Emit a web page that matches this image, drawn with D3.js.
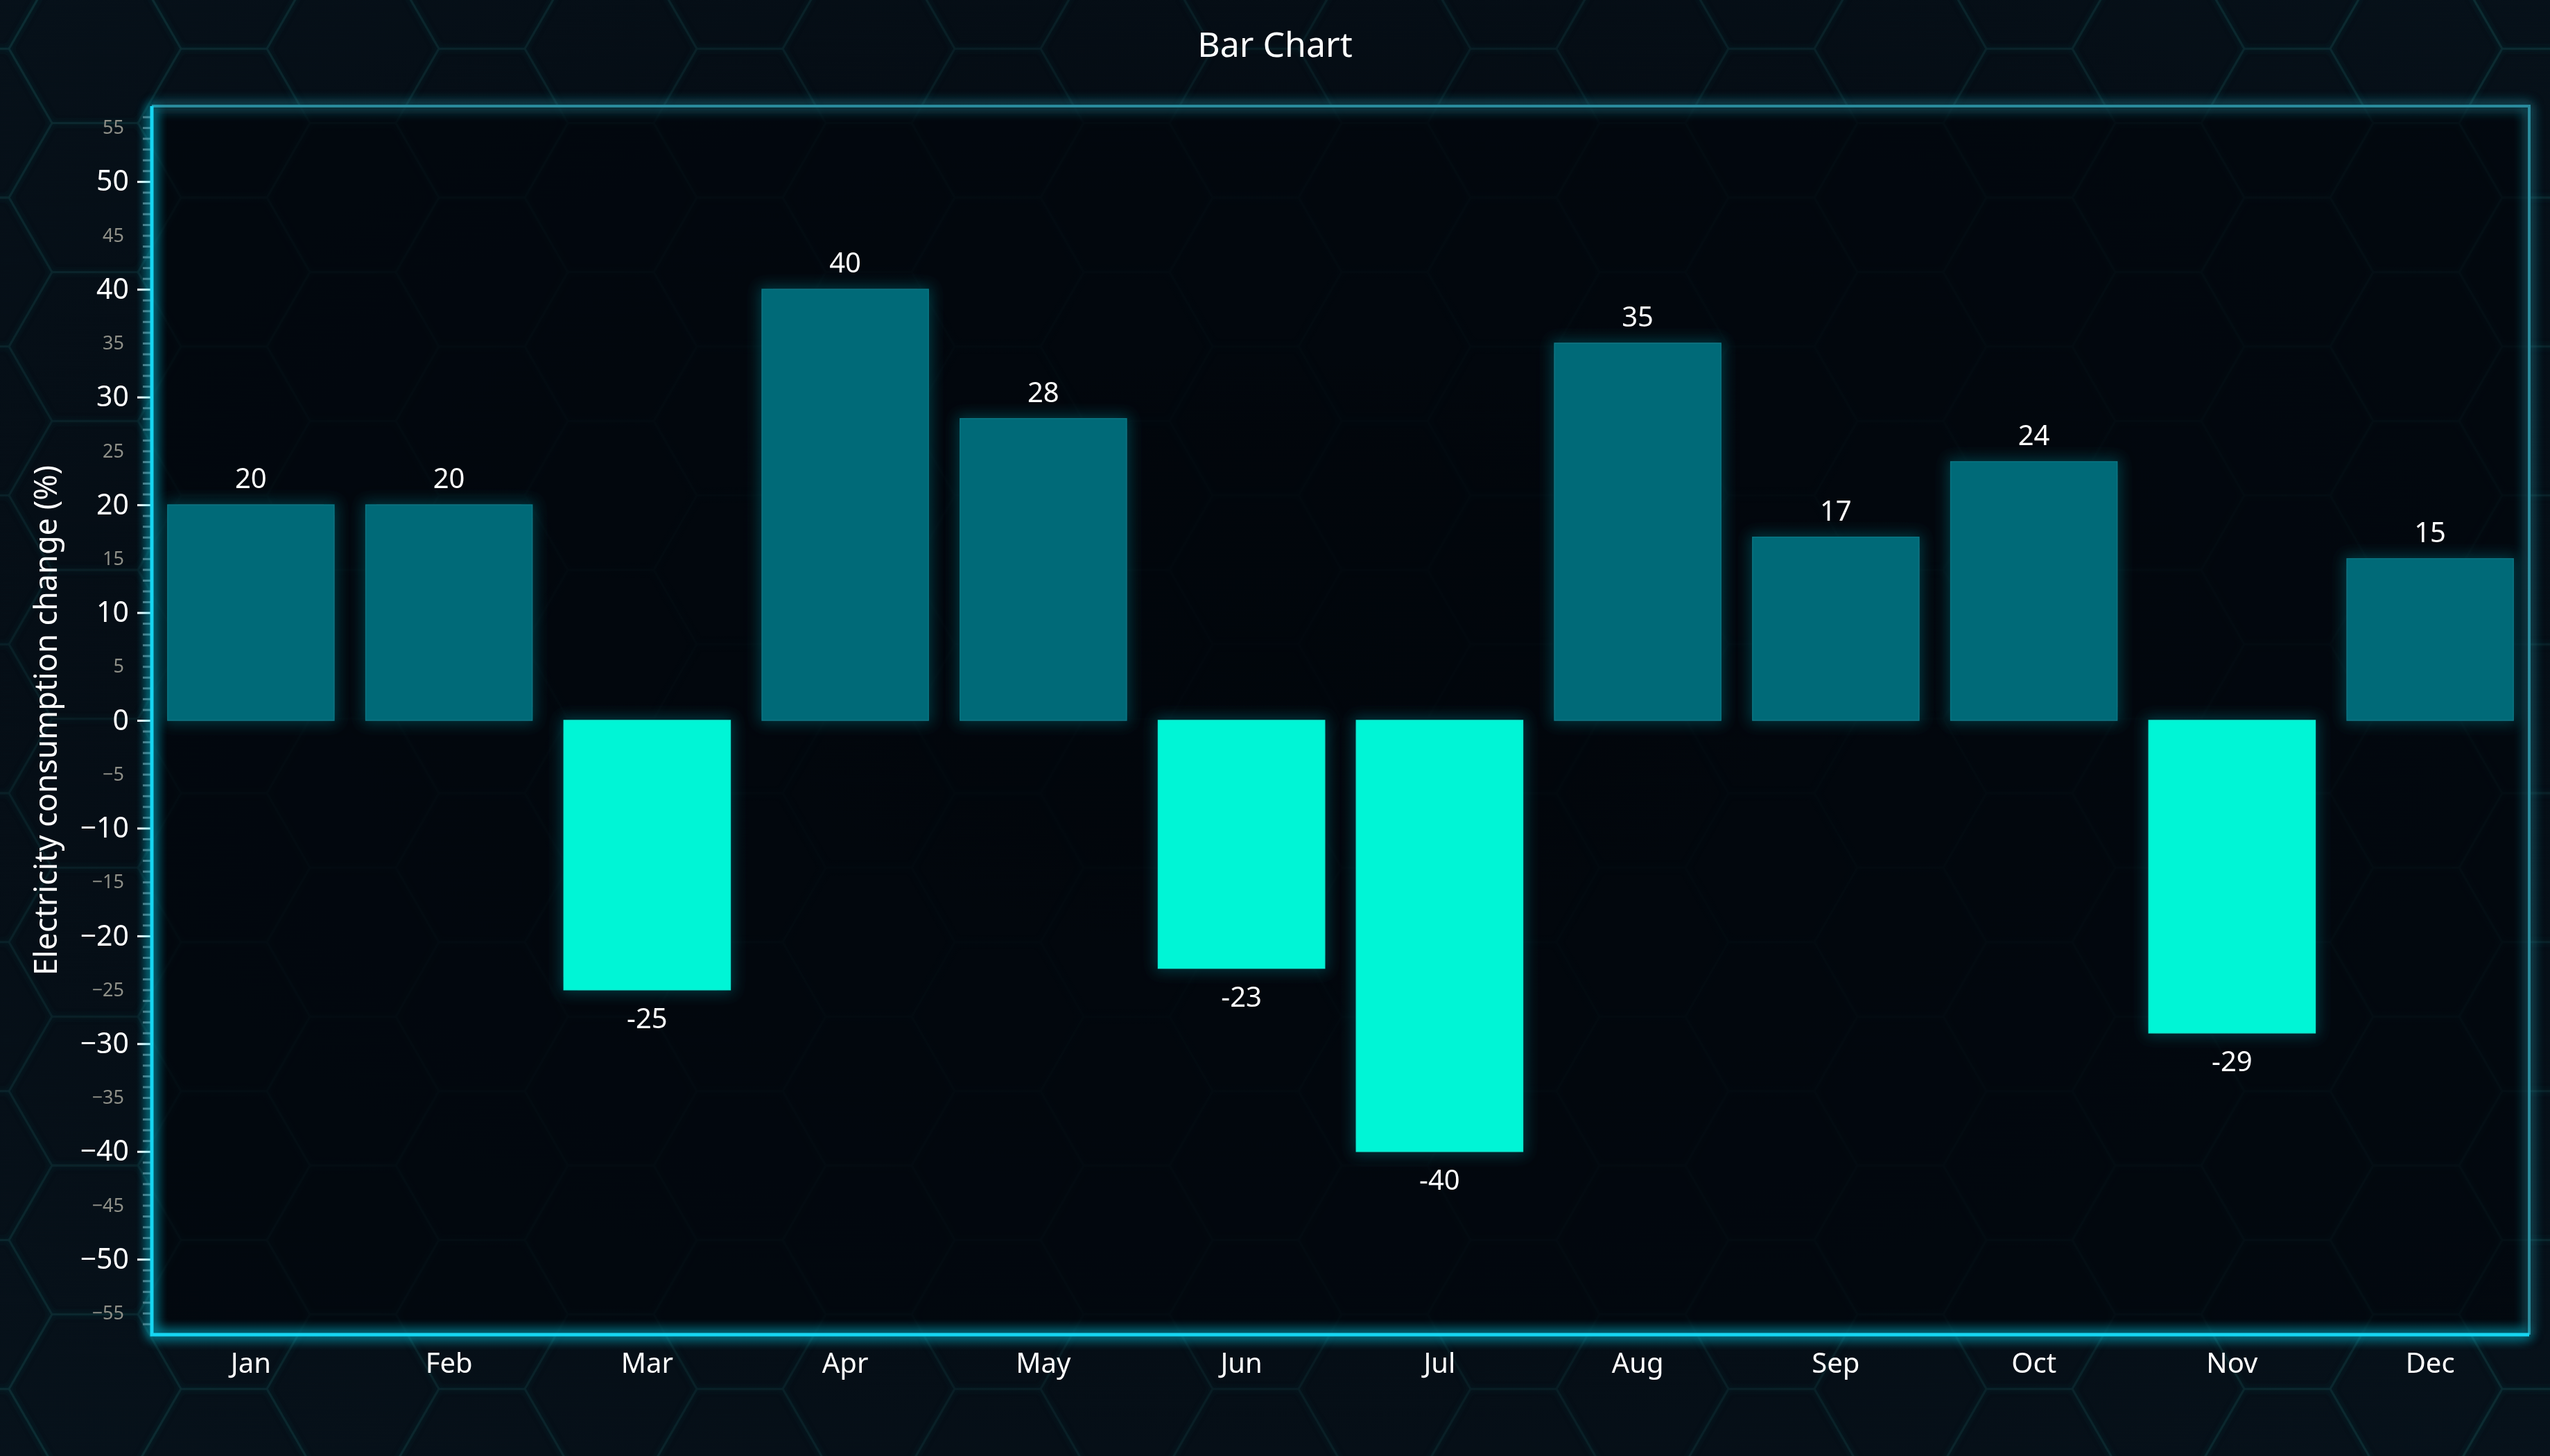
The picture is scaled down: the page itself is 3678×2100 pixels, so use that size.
<!DOCTYPE html>
<html>
<head>
<meta charset="utf-8">
<script src="https://cdn.jsdelivr.net/npm/d3@7"></script>
<style>
  html, body { margin: 0; padding: 0; background: #050b14; }
  svg { display: block; }
  text { font-family: "Noto Sans", "Open Sans", sans-serif; }
</style>
</head>
<body>
<svg id="chart" width="3678" height="2100"></svg>
<script>
const months = ["Jan","Feb","Mar","Apr","May","Jun","Jul","Aug","Sep","Oct","Nov","Dec"];
const changes = [20, 20, -25, 40, 28, -23, -40, 35, 17, 24, -29, 15];
const yDomain = [-57, 57];
const majorTicks = [-50, -40, -30, -20, -10, 0, 10, 20, 30, 40, 50];
const minorLabelTicks = [-55, -45, -35, -25, -15, -5, 5, 15, 25, 35, 45, 55];
const titleText = "Bar Chart";
const yTitle = "Electricity consumption change (%)";

const W = 3678, H = 2100;
const m = { left: 219, right: 30, top: 153, bottom: 175 };
const svg = d3.select("#chart");
const defs = svg.append("defs");

// background gradient
const bg = defs.append("radialGradient").attr("id", "bgGrad")
  .attr("cx", "50%").attr("cy", "45%").attr("r", "75%");
bg.append("stop").attr("offset", "0%").attr("stop-color", "#03070d");
bg.append("stop").attr("offset", "100%").attr("stop-color", "#07121b");
svg.append("rect").attr("width", W).attr("height", H).attr("fill", "url(#bgGrad)");

// hexagon pattern
const s = 124, hh = s * Math.sqrt(3) / 2;
const hexPts = d3.range(6).map(k => [s * Math.cos(k * Math.PI / 3), s * Math.sin(k * Math.PI / 3)]);
const hexPath = "M" + hexPts.map(p => p.join(",")).join("L") + "Z";
const centers = [];
for (let i = -2; i < 23; i++) {
  for (let j = -2; j < 12; j++) {
    centers.push([137 + 1.5 * s * i, 285 + 2 * hh * j + ((i % 2 !== 0) ? hh : 0)]);
  }
}
const hexMask = defs.append("radialGradient").attr("id", "hexFade")
  .attr("cx", "50%").attr("cy", "50%").attr("r", "72%");
hexMask.append("stop").attr("offset", "0%").attr("stop-color", "#fff").attr("stop-opacity", 0.15);
hexMask.append("stop").attr("offset", "55%").attr("stop-color", "#fff").attr("stop-opacity", 0.35);
hexMask.append("stop").attr("offset", "100%").attr("stop-color", "#fff").attr("stop-opacity", 1);
defs.append("mask").attr("id", "hexMask").append("rect")
  .attr("width", W).attr("height", H).attr("fill", "url(#hexFade)");
const hexF = defs.append("filter").attr("id", "hexGlow").attr("x", "-10%").attr("y", "-10%").attr("width", "120%").attr("height", "120%");
hexF.append("feGaussianBlur").attr("in", "SourceGraphic").attr("stdDeviation", 4).attr("result", "b");
const hm = hexF.append("feMerge");
hm.append("feMergeNode").attr("in", "b");
hm.append("feMergeNode").attr("in", "SourceGraphic");
svg.append("g").attr("mask", "url(#hexMask)").attr("filter", "url(#hexGlow)")
  .selectAll("path").data(centers).join("path")
  .attr("d", hexPath)
  .attr("transform", d => `translate(${d[0]},${d[1]})`)
  .attr("fill", "none").attr("stroke", "#0f3036").attr("stroke-width", 3).attr("stroke-opacity", 0.7);

// scales
const x = d3.scaleBand().domain(months).range([m.left, W - m.right]).paddingInner(0.16).paddingOuter(0.08);
const y = d3.scaleLinear().domain(yDomain).range([H - m.bottom, m.top]);

// frame glow filter
const inner = defs.append("filter").attr("id", "frameGlow").attr("x", "-5%").attr("y", "-5%").attr("width", "110%").attr("height", "110%");
inner.append("feGaussianBlur").attr("in", "SourceGraphic").attr("stdDeviation", 9).attr("result", "b");
const fm = inner.append("feMerge");
fm.append("feMergeNode").attr("in", "b");
fm.append("feMergeNode").attr("in", "b");
fm.append("feMergeNode").attr("in", "SourceGraphic");

// plot area darker fill
svg.append("rect")
  .attr("x", x.range()[0]).attr("y", y(yDomain[1]))
  .attr("width", x.range()[1] - x.range()[0]).attr("height", y(yDomain[0]) - y(yDomain[1]))
  .attr("fill", "#02060b").attr("fill-opacity", 0.7);

// bar glow filter
const bf = defs.append("filter").attr("id", "barGlow").attr("x", "-30%").attr("y", "-30%").attr("width", "160%").attr("height", "160%");
bf.append("feMorphology").attr("in", "SourceAlpha").attr("operator", "dilate").attr("radius", 4).attr("result", "d");
bf.append("feGaussianBlur").attr("in", "d").attr("stdDeviation", 10).attr("result", "b");
bf.append("feFlood").attr("flood-color", "#0d4750").attr("flood-opacity", 0.75).attr("result", "c");
bf.append("feComposite").attr("in", "c").attr("in2", "b").attr("operator", "in").attr("result", "g");
const bm = bf.append("feMerge");
bm.append("feMergeNode").attr("in", "g");
bm.append("feMergeNode").attr("in", "SourceGraphic");

const data = months.map((mo, i) => ({ mo, v: changes[i] }));

svg.append("g").selectAll("rect").data(data).join("rect")
  .attr("x", d => x(d.mo))
  .attr("width", x.bandwidth())
  .attr("y", d => y(Math.max(0, d.v)))
  .attr("height", d => Math.abs(y(d.v) - y(0)))
  .attr("fill", d => d.v >= 0 ? "#026a78" : "#00f5d6")
  .attr("stroke", d => d.v >= 0 ? "#0a7684" : "#0fe8d0")
  .attr("stroke-width", 1.5)
  .attr("filter", "url(#barGlow)");

// value labels
svg.append("g").selectAll("text").data(data).join("text")
  .attr("x", d => x(d.mo) + x.bandwidth() / 2)
  .attr("y", d => d.v >= 0 ? y(d.v) - 24 : y(d.v) + 55)
  .attr("text-anchor", "middle")
  .attr("fill", "#ffffff")
  .attr("font-size", 40)
  .text(d => d.v);

// frame: top and right (dim)
const x0 = x.range()[0], x1 = x.range()[1], yt = y(yDomain[1]), yb = y(yDomain[0]);
svg.append("path")
  .attr("d", `M${x0},${yt}L${x1},${yt}L${x1},${yb}`)
  .attr("fill", "none").attr("stroke", "#2a8a9c").attr("stroke-width", 4)
  .attr("filter", "url(#frameGlow)");

// y axis minor ticks (every 1)
const minorAll = d3.range(-56, 57).filter(v => v % 10 !== 0);
const yMinor = d3.axisLeft(y).tickValues(minorAll).tickSize(11).tickFormat("");
const gMinor = svg.append("g").attr("transform", `translate(${x0 - 2},0)`).call(yMinor);
gMinor.select(".domain").remove();
gMinor.selectAll(".tick line").attr("stroke", "#5d6a72").attr("stroke-width", 3);

// minor labels (5s)
const yMinorLab = d3.axisLeft(y).tickValues(minorLabelTicks).tickSize(0).tickPadding(40);
const gML = svg.append("g").attr("transform", `translate(${x0},0)`).call(yMinorLab);
gML.select(".domain").remove();
gML.selectAll(".tick text").attr("fill", "#8f9088").attr("font-size", 27)
  .attr("font-family", "Noto Sans, sans-serif");

// major ticks & labels
const yMajor = d3.axisLeft(y).tickValues(majorTicks).tickSize(21).tickPadding(12);
const gMaj = svg.append("g").attr("transform", `translate(${x0},0)`).call(yMajor);
gMaj.select(".domain").remove();
gMaj.selectAll(".tick line").attr("stroke", "#ffffff").attr("stroke-width", 3);
gMaj.selectAll(".tick text").attr("fill", "#ffffff").attr("font-size", 41)
  .attr("font-family", "Noto Sans, sans-serif");

// x axis labels
const xAxis = d3.axisBottom(x).tickSize(0).tickPadding(27);
const gX = svg.append("g").attr("transform", `translate(0,${yb})`).call(xAxis);
gX.select(".domain").remove();
gX.selectAll(".tick text").attr("fill", "#ffffff").attr("font-size", 40)
  .attr("font-family", "Noto Sans, sans-serif");

// left & bottom axis lines (bright)
svg.append("path")
  .attr("d", `M${x0},${yt}L${x0},${yb}L${x1},${yb}`)
  .attr("fill", "none").attr("stroke", "#16d6f2").attr("stroke-width", 5)
  .attr("filter", "url(#frameGlow)");

// title
svg.append("text").attr("x", W / 2).attr("y", 82).attr("text-anchor", "middle")
  .attr("fill", "#ffffff").attr("font-size", 50).text(titleText);

// y title
svg.append("text")
  .attr("transform", `translate(82,${(yt + yb) / 2}) rotate(-90)`)
  .attr("text-anchor", "middle").attr("fill", "#ffffff").attr("font-size", 45)
  .text(yTitle);
</script>
</body>
</html>
